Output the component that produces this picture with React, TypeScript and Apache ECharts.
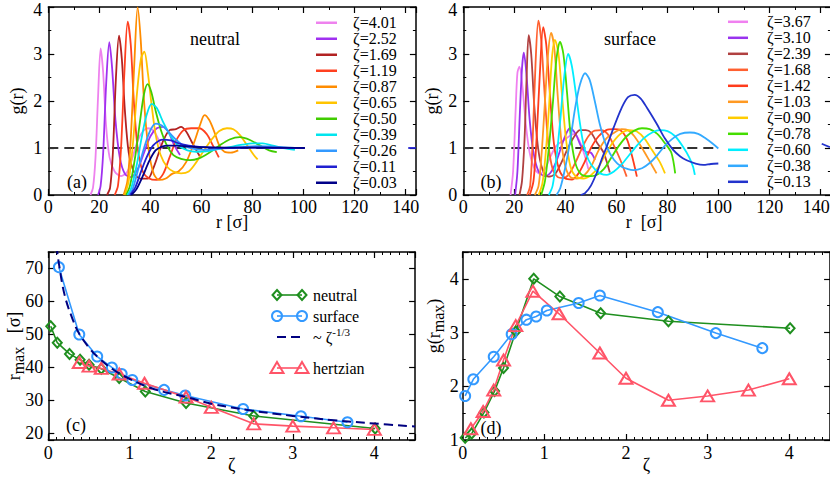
import React, { useEffect, useRef } from 'react';
import * as echarts from 'echarts';

const FONT = '"Liberation Serif", "Times New Roman", serif';

// ---------------- (a) neutral: g(r) curves ----------------
const neutralZeta = ['4.01', '2.52', '1.69', '1.19', '0.87', '0.65', '0.50', '0.39', '0.26', '0.11', '0.03'];
const gN401 = [[16.5,0],[17.5,0.15],[18.5,0.8],[19.5,2.1],[20.5,3.12],[21.5,2.6],[22.6,1.5],[24,0.8],[26,0.5],[28.5,0.4],[31,0.5],[33,0.8],[35,1.15],[37,1.35],[39,1.42],[41,1.38],[43,1.2],[44.5,0.98]];
const gN252 = [[19.5,0],[20.5,0.2],[21.5,0.9],[22.7,2.4],[23.9,3.25],[25,2.7],[26.3,1.6],[28,0.8],[30,0.45],[32.5,0.38],[35,0.55],[37.5,0.9],[40,1.25],[42.5,1.42],[45,1.45],[47,1.35],[49,1.1],[51.6,0.85]];
const gN169 = [[23,0],[24.2,0.15],[25.3,0.9],[26.5,2.5],[27.7,3.39],[28.8,2.9],[30,1.8],[31.5,0.9],[33.5,0.5],[36,0.35],[39,0.35],[41,0.55],[43,0.85],[45,1.15],[47.5,1.38],[50,1.4],[52,1.45],[54,1.35],[56,1.15],[58,0.95],[59.4,0.82]];
const gN119 = [[26,0],[27.3,0.2],[28.5,1.0],[29.8,2.6],[31.1,3.69],[32.3,3.2],[33.5,2.0],[35,1.0],[37,0.5],[39.5,0.35],[42.4,0.32],[45,0.45],[47.5,0.8],[50,1.15],[53,1.38],[56,1.42],[59,1.42],[62,1.3],[64.5,1.05],[66.8,0.8]];
const gN087 = [[29.5,0],[31,0.3],[32.3,1.2],[33.7,2.8],[35,3.99],[36.2,3.3],[37.5,2.0],[39.2,1.0],[41.3,0.45],[43.5,0.32],[46,0.35],[48.5,0.45],[51,0.5],[54,0.7],[57,1.1],[59.5,1.5],[61.2,1.7],[63,1.6],[65,1.35],[67,1.05],[69,0.92],[71.5,0.9],[74.4,0.95]];
const gN065 = [[30,0],[31.5,0.3],[33,1.0],[34.8,2.2],[36.3,2.9],[37.6,3.05],[39,2.6],[40.5,1.9],[42,1.3],[44,0.85],[46.5,0.6],[49,0.5],[52,0.46],[55,0.5],[58,0.7],[61,0.95],[64,1.18],[67,1.36],[70,1.42],[72.5,1.4],[75,1.28],[78,1.05],[80.5,0.85],[82,0.76]];
const gN050 = [[30.5,0],[32,0.2],[34,0.8],[36,1.6],[37.5,2.15],[38.9,2.36],[40.3,2.2],[42,1.8],[44,1.4],[46.5,1.05],[49,0.85],[52,0.77],[55.5,0.74],[59,0.78],[63,0.9],[67,1.05],[71,1.18],[75,1.23],[79,1.17],[83,1.05],[86.5,0.95],[89.5,0.91]];
const gN039 = [[31,0],[32.5,0.15],[34.5,0.6],[36.5,1.2],[38.5,1.7],[40.5,1.94],[42.5,1.85],[45,1.55],[48,1.25],[51,1.05],[54.5,0.95],[58,0.92],[62,0.93],[66,0.97],[71,1.02],[76,1.07],[80,1.1],[84,1.1],[88,1.05],[92,1.0],[96.6,0.96]];
const gN026 = [[31.5,0],[33,0.12],[35,0.5],[37.5,1.0],[40,1.38],[42.1,1.52],[44.5,1.48],[47,1.35],[50,1.18],[53,1.05],[57,0.98],[61,0.96],[66,0.98],[71,1.0],[76,1.02],[82,1.04],[88,1.03],[94,1.01],[100,1.0]];
const gN011 = [[32,0],[34,0.15],[36,0.45],[38.5,0.8],[41,1.05],[43.5,1.16],[45,1.18],[48,1.16],[51,1.1],[55,1.05],[60,1.02],[70,1.0],[80,1.01],[90,1.0],[100.5,1.0]];
const gN003 = [[32.5,0],[34.5,0.12],[37,0.4],[39.5,0.72],[42,0.95],[44.5,1.03],[47,1.05],[50,1.05],[55,1.03],[60,1.02],[70,1.01],[80,1.01],[90,1.01],[100.5,1.0]];
const neutralCurves = [gN401, gN252, gN169, gN119, gN087, gN065, gN050, gN039, gN026, gN011, gN003];
const neutralTail = [[141, 1.0], [144, 1.0]];
const refLineA = [[0, 1], [99, 1]];

// ---------------- (b) surface: g(r) curves ----------------
const surfaceZeta = ['3.67', '3.10', '2.39', '1.68', '1.42', '1.03', '0.90', '0.78', '0.60', '0.38', '0.13'];
const gS367 = [[18.5,0],[19.5,0.5],[20.5,1.8],[21.2,2.6],[22,2.73],[23,2.4],[24.5,1.5],[26,0.9],[28,0.55],[30,0.45],[32,0.55],[34,0.8],[36.5,1.05],[39,1.15],[41.5,1.25],[43.5,1.3],[45.5,1.15],[47.5,0.85],[49,0.55]];
const gS310 = [[20.3,0],[21.2,0.5],[22.2,1.8],[23,2.7],[23.7,3.03],[24.7,2.6],[26,1.6],[27.5,0.9],[29.5,0.5],[32,0.4],[34.5,0.5],[37,0.8],[39.5,1.2],[41.8,1.42],[44,1.3],[46,1.05],[48,0.92],[50,0.9],[51.6,0.75]];
const gS239 = [[22,0],[23,0.3],[24,1.2],[24.8,2.5],[25.6,3.4],[26.6,3.0],[27.8,1.9],[29.3,1.0],[31,0.55],[33.3,0.39],[36,0.45],[38.5,0.7],[41,1.0],[43.5,1.25],[45.7,1.38],[48,1.38],[50,1.33],[52.5,1.1],[54.8,0.92],[56.5,0.65],[57.4,0.48]];
const gS168 = [[25,0],[26.2,0.2],[27.2,1.2],[28.3,2.8],[29.4,3.71],[30.5,3.3],[31.8,2.2],[33.3,1.1],[35,0.55],[37,0.38],[39,0.36],[41.5,0.45],[44,0.7],[46.5,1.0],[49,1.25],[51.5,1.37],[54,1.38],[56.5,1.3],[59,1.05],[61.5,0.75],[64,0.39]];
const gS142 = [[26,0],[27.5,0.3],[28.8,1.3],[30,2.6],[31.3,3.57],[32.5,3.2],[34,2.1],[35.5,1.1],[37.5,0.55],[40,0.35],[42.5,0.33],[45,0.45],[47.5,0.7],[50,1.0],[53,1.25],[56,1.38],[59,1.4],[61.5,1.38],[64,1.2],[66,0.85],[68,0.39]];
const gS103 = [[28,0],[29.5,0.2],[30.7,0.9],[32,2.0],[33.2,3.0],[34.4,3.45],[35.7,3.1],[37,2.1],[38.5,1.1],[40,0.6],[42,0.38],[44.5,0.35],[47,0.4],[50,0.6],[53,0.95],[56,1.2],[59,1.32],[62,1.4],[64.5,1.38],[67,1.25],[70,1.0],[73,0.72],[75.7,0.46]];
const gS090 = [[29.5,0],[31,0.25],[32.3,0.9],[33.5,1.8],[34.7,2.9],[35.9,3.3],[37.3,3.0],[38.7,2.1],[40.2,1.2],[42,0.6],[44,0.4],[47,0.35],[50,0.42],[53,0.6],[56,0.9],[59,1.15],[62,1.32],[65,1.38],[68,1.35],[71,1.2],[74,0.95],[77,0.7],[79,0.46]];
const gS078 = [[30.5,0],[32,0.3],[33.5,1.0],[35,1.9],[36.5,2.9],[37.9,3.26],[39.2,3.0],[40.6,2.2],[42,1.3],[43.8,0.7],[46,0.45],[49,0.4],[52,0.42],[55,0.55],[58,0.8],[61,1.05],[64,1.25],[67,1.37],[70,1.42],[73,1.4],[76,1.3],[79,1.1],[81.5,0.9],[83,0.46]];
const gS060 = [[33.5,0],[35,0.2],[36.5,0.8],[38,1.6],[39.5,2.5],[41.1,3.0],[42.5,2.75],[44,2.2],[45.5,1.6],[47,1.1],[49,0.75],[51.5,0.55],[54,0.45],[56.2,0.43],[59,0.5],[62,0.65],[65,0.85],[68,1.05],[71,1.22],[74,1.33],[77,1.38],[80,1.36],[83,1.25],[86,1.03],[88.5,0.8],[90,0.6],[90.7,0.43]];
const gS038 = [[36.5,0],[38,0.15],[40,0.6],[42,1.2],[43.8,1.85],[45.7,2.35],[47.7,2.59],[49.5,2.45],[51.5,2.0],[53.5,1.5],[56,1.05],[59,0.75],[62,0.6],[64.5,0.55],[66.6,0.53],[70,0.57],[73,0.68],[76,0.85],[79,1.05],[82,1.2],[85,1.3],[88.8,1.33],[92,1.3],[95,1.2],[97.5,1.1],[99.9,0.99]];
const gS013 = [[46,0],[47.7,0.04],[50,0.2],[52.5,0.5],[54.5,0.8],[56.2,1.03],[59,1.45],[62,1.85],[64.5,2.08],[67.1,2.13],[69.5,2.05],[72,1.85],[75.7,1.52],[79,1.2],[82.2,0.96],[85,0.82],[87.5,0.74],[91,0.67],[94,0.64],[97,0.66],[99.9,0.67]];
const surfaceCurves = [gS367, gS310, gS239, gS168, gS142, gS103, gS090, gS078, gS060, gS038, gS013];
const surfaceTail = [[140.4, 1.09], [143.6, 1.02]];
const refLineB = [[0, 1], [100, 1]];

// ---------------- (c) r_max vs zeta ----------------
const zetaNeutral = [0.03, 0.11, 0.26, 0.39, 0.50, 0.65, 0.87, 1.19, 1.69, 2.52, 4.01];
const rmaxNeutral = [52.5, 47.5, 44.1, 42.3, 40.8, 39.6, 36.8, 32.7, 29.2, 25.3, 21.5];
const zetaSurface = [0.13, 0.38, 0.60, 0.78, 0.90, 1.03, 1.42, 1.68, 2.39, 3.10, 3.67];
const rmaxSurface = [70.4, 50.0, 43.3, 40.0, 38.0, 36.2, 33.2, 31.5, 27.4, 25.2, 23.4];
const zetaFit = [0.10, 0.13, 0.2, 0.3, 0.38, 0.5, 0.6, 0.8, 1.0, 1.3, 1.7, 2.0, 2.5, 3.0, 3.5, 4.0, 4.5];
const rmaxFit = [77, 71.5, 62, 54.5, 50.2, 46, 43.3, 39.3, 36.5, 33.4, 31.0, 29.0, 26.9, 25.3, 24.0, 23.0, 22.1];
const zetaHertz = [0.38, 0.50, 0.65, 0.87, 1.18, 1.69, 2.0, 2.52, 3.0, 3.5, 4.0];
const rmaxHertz = [41.5, 40.4, 39.7, 38.0, 35.2, 31.0, 27.9, 22.9, 22.2, 21.7, 21.2];

// ---------------- (d) g(r_max) vs zeta ----------------
const gmaxNeutral = [1.04, 1.12, 1.51, 1.91, 2.34, 3.02, 4.0, 3.67, 3.36, 3.21, 3.08];
const zetaSurfaceD = [0.03, 0.13, 0.38, 0.60, 0.78, 0.90, 1.03, 1.42, 1.68, 2.39, 3.10, 3.67];
const gmaxSurface = [1.82, 2.13, 2.55, 2.97, 3.24, 3.30, 3.41, 3.55, 3.69, 3.38, 2.99, 2.71];
const zetaHertzD = [0.10, 0.25, 0.38, 0.50, 0.65, 0.86, 1.18, 1.68, 2.0, 2.52, 3.0, 3.5, 4.0];
const gmaxHertz = [1.21, 1.53, 1.93, 2.49, 3.13, 3.77, 3.35, 2.62, 2.15, 1.74, 1.82, 1.93, 2.14];

// ---------------- styles ----------------
const neutralColors = ['#ee82ee', '#a030f0', '#b22222', '#ff4020', '#ff8c00', '#ffc400', '#40cc00', '#00e5ee', '#3399ff', '#2020d0', '#000088'];
const surfaceColors = ['#f080f0', '#9933ee', '#b04040', '#ff6030', '#ff3c1c', '#ff9922', '#ffcc00', '#44dd00', '#00eeff', '#33aaff', '#2233cc'];
const C_GREEN = '#1f8f1f';
const C_BLUE = '#3399ff';
const C_NAVY = '#000080';
const C_RED = '#ff5468';

const pairs = (xs: number[], ys: number[]) => xs.map((x, i) => [x, ys[i]]);

// label formatter: shows only multiples of step; optional rich wrappers for edge labels
const multipleFmt = (step: number, special?: Record<string, string>) => (v: number) => {
  const k = v / step;
  if (Math.abs(k - Math.round(k)) > 1e-6) return '';
  const s = String(Math.round(k * step * 1000) / 1000);
  if (special && special[s]) return '{' + special[s] + '|' + s + '}';
  return s;
};

const labelRich = {
  down: { fontSize: 18, fontFamily: FONT, color: '#000', padding: [6, 0, 0, 0] },
  lft: { fontSize: 18, fontFamily: FONT, color: '#000', lineHeight: 14, padding: [0, 9, 0, 0] },
};

function axis(opts: any) {
  const {
    grid, pos, min, max, interval, minor, label, step, name, nameGap, nameRotate, nameStyle, margin, special, labelLH,
  } = opts;
  const a: any = {
    type: 'value',
    gridIndex: grid,
    position: pos,
    min,
    max,
    axisLine: { show: true, onZero: false, lineStyle: { color: '#000', width: 1.5 } },
    axisTick: { show: true, inside: true, length: 6, lineStyle: { color: '#000', width: 1.2 } },
    minorTick: { show: minor > 0, splitNumber: minor > 0 ? minor : 5, length: 3, lineStyle: { color: '#000', width: 1 } },
    splitLine: { show: false },
    minorSplitLine: { show: false },
    axisLabel: {
      show: !!label,
      color: '#000',
      fontFamily: FONT,
      fontSize: 18,
      margin: margin ?? 4,
      formatter: multipleFmt(step, special),
      rich: labelRich,
      ...(labelLH ? { lineHeight: labelLH } : {}),
    },
    axisPointer: { show: false },
  };
  if (interval !== undefined) a.interval = interval;
  if (name) {
    a.name = name;
    a.nameLocation = 'middle';
    a.nameGap = nameGap;
    a.nameMoveOverlap = false;
    if (nameRotate) a.nameRotate = nameRotate;
    a.nameTextStyle = { color: '#000', fontFamily: FONT, fontSize: 18, ...(nameStyle || {}) };
  }
  return a;
}

const richNameC = {
  a: { fontSize: 18, fontFamily: FONT, color: '#000' },
  s: { fontSize: 16, fontFamily: FONT, color: '#000', padding: [9, 0, 0, 0] },
};
const richNameD = {
  a: { fontSize: 18, fontFamily: FONT, color: '#000' },
  a0: { fontSize: 18, fontFamily: FONT, color: '#000', padding: [0, 0, 0, 40] },
  s: { fontSize: 16, fontFamily: FONT, color: '#000', padding: [9, 0, 0, 0] },
};
const richNameB = {
  n: { fontSize: 18, fontFamily: FONT, color: '#000', lineHeight: 14, padding: [0, 6, 0, 0] },
};

function curveSeries(data: number[][], name: string, color: string, xi: number) {
  return {
    type: 'line',
    name,
    data,
    xAxisIndex: xi,
    yAxisIndex: xi,
    symbol: 'none',
    showSymbol: false,
    smooth: 0.3,
    silent: true,
    lineStyle: { color, width: 1.8 },
    itemStyle: { color },
    z: 3,
  };
}

function markedSeries(data: number[][], color: string, symbol: string, size: any, xi: number) {
  return {
    type: 'line',
    data,
    xAxisIndex: xi,
    yAxisIndex: xi,
    symbol,
    symbolSize: size,
    showSymbol: true,
    silent: true,
    lineStyle: { color, width: 1.6 },
    itemStyle: { color: 'rgba(255,255,255,0)', borderColor: color, borderWidth: 2 },
    z: 3,
  };
}

function legendSym(kind: string, cx: number, cy: number, color: string): any {
  const style = { fill: 'none', stroke: color, lineWidth: 2 };
  if (kind === 'diamond') {
    return { type: 'polygon', shape: { points: [[cx, cy - 5], [cx + 4.5, cy], [cx, cy + 5], [cx - 4.5, cy]] }, style };
  }
  if (kind === 'circle') {
    return { type: 'circle', shape: { cx, cy, r: 5 }, style };
  }
  return { type: 'polygon', shape: { points: [[cx, cy - 6], [cx + 6.5, cy + 5], [cx - 6.5, cy + 5]] }, style };
}

function txt(text: string, x: number, y: number, size: number, align = 'center', rich?: any): any {
  return {
    type: 'text',
    x,
    y,
    silent: true,
    style: {
      text,
      fontSize: size,
      fontFamily: FONT,
      fill: '#000',
      align,
      verticalAlign: 'middle',
      textAlign: align,
      textVerticalAlign: 'middle',
      ...(rich ? { rich } : {}),
    },
  };
}

function buildOption() {
  const grids = [
    { left: 48.3, top: 7, width: 367.6, height: 188 },
    { left: 463.3, top: 7, width: 367.6, height: 188 },
    { left: 48.3, top: 252, width: 366.8, height: 188 },
    { left: 462.7, top: 252, width: 367.4, height: 188 },
  ].map((g) => ({ ...g, containLabel: false, outerBoundsMode: 'none', show: false }));

  const rNameStyle = { lineHeight: 14 };
  const xAxis = [
    axis({ grid: 0, pos: 'bottom', min: 0, max: 144, interval: 20, minor: 2, label: true, step: 20, name: 'r [σ]', nameGap: 20, margin: 5, labelLH: 14, nameStyle: rNameStyle }),
    axis({ grid: 0, pos: 'top', min: 0, max: 144, interval: 20, minor: 2, label: false, step: 20 }),
    axis({ grid: 1, pos: 'bottom', min: 0, max: 144, interval: 20, minor: 2, label: true, step: 20, name: '{n|r  [σ]}', nameGap: 20, margin: 5, labelLH: 14, nameStyle: { lineHeight: 14, rich: richNameB }, special: { '140': 'lft' } }),
    axis({ grid: 1, pos: 'top', min: 0, max: 144, interval: 20, minor: 2, label: false, step: 20 }),
    axis({ grid: 2, pos: 'bottom', min: 0, max: 4.5, interval: 1, minor: 10, label: true, step: 1, name: 'ζ', nameGap: 16 }),
    axis({ grid: 2, pos: 'top', min: 0, max: 4.5, interval: 1, minor: 10, label: false, step: 1 }),
    axis({ grid: 3, pos: 'bottom', min: 0, max: 4.5, interval: 1, minor: 10, label: true, step: 1, name: 'ζ', nameGap: 16 }),
    axis({ grid: 3, pos: 'top', min: 0, max: 4.5, interval: 1, minor: 10, label: false, step: 1 }),
  ];
  const yAxis = [
    axis({ grid: 0, pos: 'left', min: 0, max: 4, interval: 1, minor: 2, label: true, step: 1, name: 'g(r)', nameGap: 22, nameRotate: 90, margin: 6, special: { '4': 'down' } }),
    axis({ grid: 0, pos: 'right', min: 0, max: 4, interval: 1, minor: 2, label: false, step: 1 }),
    axis({ grid: 1, pos: 'left', min: 0, max: 4, interval: 1, minor: 2, label: true, step: 1, name: 'g(r)', nameGap: 22, nameRotate: 90, margin: 6, special: { '4': 'down' } }),
    axis({ grid: 1, pos: 'right', min: 0, max: 4, interval: 1, minor: 2, label: false, step: 1 }),
    axis({ grid: 2, pos: 'left', min: 18, max: 75, minor: 0, label: true, step: 10, name: '{a|r}{s|max}{a|   [σ]}', nameGap: 22, nameRotate: 90, margin: 5, nameStyle: { rich: richNameC } }),
    axis({ grid: 2, pos: 'right', min: 18, max: 75, minor: 0, label: false, step: 10 }),
    axis({ grid: 3, pos: 'left', min: 1, max: 4.5, interval: 1, minor: 2, label: true, step: 1, name: '{a0|g(r}{s|max}{a|)}', nameGap: 16, nameRotate: 90, margin: 4, nameStyle: { rich: richNameD } }),
    axis({ grid: 3, pos: 'right', min: 1, max: 4.5, interval: 1, minor: 2, label: false, step: 1 }),
  ];

  const dashRef = (data: number[][], xi: number) => ({
    type: 'line', data, xAxisIndex: xi, yAxisIndex: xi, symbol: 'none', silent: true,
    lineStyle: { color: '#333', width: 2, type: [10, 6] }, z: 2,
  });

  const series: any[] = [];
  series.push(dashRef(refLineA, 0));
  neutralCurves.forEach((d, i) => series.push(curveSeries(d, 'ζ=' + neutralZeta[i], neutralColors[i], 0)));
  series.push({ ...curveSeries(neutralTail, 'tailA', neutralColors[9], 0), smooth: false });
  series.push(dashRef(refLineB, 2));
  surfaceCurves.forEach((d, i) => series.push(curveSeries(d, 'ζ=' + surfaceZeta[i], surfaceColors[i], 2)));
  series.push({ ...curveSeries(surfaceTail, 'tailB', surfaceColors[10], 2), smooth: false });

  // (c)
  series.push(markedSeries(pairs(zetaNeutral, rmaxNeutral), C_GREEN, 'diamond', [9, 10], 4));
  series.push(markedSeries(pairs(zetaSurface, rmaxSurface), C_BLUE, 'circle', 10, 4));
  series.push({
    type: 'line', data: pairs(zetaFit, rmaxFit), xAxisIndex: 4, yAxisIndex: 4, symbol: 'none', smooth: 0.4, silent: true,
    lineStyle: { color: C_NAVY, width: 2, type: [9, 5] }, z: 4,
  });
  series.push(markedSeries(pairs(zetaHertz, rmaxHertz), C_RED, 'triangle', [13, 11], 4));
  // (d)
  series.push(markedSeries(pairs(zetaNeutral, gmaxNeutral), C_GREEN, 'diamond', [9, 10], 6));
  series.push(markedSeries(pairs(zetaSurfaceD, gmaxSurface), C_BLUE, 'circle', 10, 6));
  series.push(markedSeries(pairs(zetaHertzD, gmaxHertz), C_RED, 'triangle', [13, 11], 6));

  const legendCommon = {
    orient: 'vertical',
    itemWidth: 21,
    itemHeight: 2.5,
    itemGap: 0,
    icon: 'rect',
    padding: 0,
    selectedMode: false,
  };
  const legend = [
    {
      ...legendCommon,
      left: 316,
      top: 14.75,
      data: neutralZeta.map((z) => 'ζ=' + z),
      textStyle: { color: '#000', fontFamily: FONT, fontSize: 16, lineHeight: 15.9, padding: [0, 0, 0, 11] },
    },
    {
      ...legendCommon,
      left: 728,
      top: 13.8,
      itemWidth: 20,
      data: surfaceZeta.map((z) => 'ζ=' + z),
      textStyle: { color: '#000', fontFamily: FONT, fontSize: 16, lineHeight: 15.83, padding: [0, 0, 0, 14] },
    },
  ];

  // legend for panel (c)
  const lx1 = 277;
  const lx2 = 302;
  const rows = [
    { y: 295, color: C_GREEN, kind: 'diamond', label: 'neutral' },
    { y: 316, color: C_BLUE, kind: 'circle', label: 'surface' },
    { y: 368, color: C_RED, kind: 'triangle', label: 'hertzian' },
  ];
  const graphics: any[] = [];
  rows.forEach((r) => {
    graphics.push({ type: 'line', silent: true, shape: { x1: lx1, y1: r.y, x2: lx2, y2: r.y }, style: { stroke: r.color, lineWidth: 1.6 } });
    graphics.push(legendSym(r.kind, lx1, r.y, r.color));
    graphics.push(legendSym(r.kind, lx2, r.y, r.color));
    graphics.push(txt(r.label, 313, r.y, 16, 'left'));
  });
  graphics.push({ type: 'line', silent: true, shape: { x1: lx1, y1: 337, x2: lx2, y2: 337 }, style: { stroke: C_NAVY, lineWidth: 2, lineDash: [9, 5] } });
  graphics.push(txt('{a|~ ζ}{s|-1/3}', 313, 337, 16, 'left', {
    a: { fontSize: 16, fontFamily: FONT, color: '#000' },
    s: { fontSize: 11, fontFamily: FONT, color: '#000', padding: [0, 0, 10, 0] },
  }));

  graphics.push(txt('neutral', 215, 39, 18));
  graphics.push(txt('surface', 630, 39, 18));
  graphics.push(txt('(a)', 77, 182, 18));
  graphics.push(txt('(b)', 491, 182, 18));
  graphics.push(txt('(c)', 76, 425, 18));
  graphics.push(txt('(d)', 491, 428, 18));

  return {
    animation: false,
    backgroundColor: '#fff',
    textStyle: { fontFamily: FONT },
    grid: grids,
    xAxis,
    yAxis,
    legend,
    series,
    graphic: { elements: graphics },
  };
}

export default function App() {
  const ref = useRef<HTMLDivElement>(null);
  useEffect(() => {
    document.body.style.margin = '0';
    if (!ref.current) return;
    const chart = echarts.init(ref.current, null, { renderer: 'svg' });
    chart.setOption(buildOption() as any);
    return () => chart.dispose();
  }, []);
  return <div ref={ref} style={{ width: 830, height: 481 }} />;
}
